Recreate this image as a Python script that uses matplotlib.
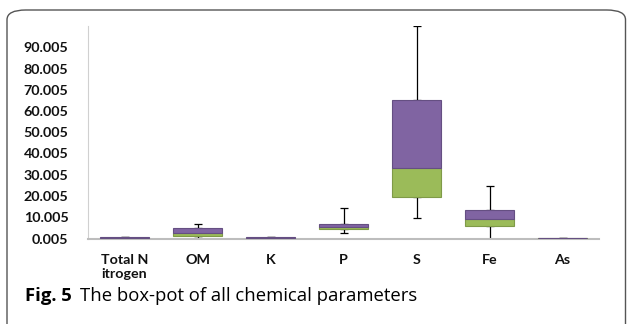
import numpy as np
import matplotlib.pyplot as plt
from matplotlib.patches import FancyBboxPatch

# box-plot statistics
categories = ["Total N\nitrogen", "OM", "K", "P", "S", "Fe", "As"]
minimum = [0.05, 0.4, 0.1, 2.6, 9.5, 0.005, 0.005]
q1 = [0.1, 1.2, 0.3, 4.6, 19.4, 6.0, 0.005]
median = [0.15, 2.7, 0.4, 5.4, 33.1, 9.3, 0.2]
q3 = [0.55, 5.1, 0.75, 6.8, 65.1, 13.25, 0.22]
maximum = [0.7, 6.7, 0.9, 14.2, 99.9, 24.5, 0.25]
yticks = [0.005 + 10 * i for i in range(10)]

purple = "#8064A2"
green = "#9BBB59"

fig = plt.figure(figsize=(6.27, 3.24), dpi=100)

# rounded frame around the figure
frame = FancyBboxPatch((7 / 627, -0.2), (625.5 - 7) / 627, 1.2 - 10 / 324,
                       boxstyle="round,pad=0,rounding_size=0.03",
                       transform=fig.transFigure, fill=False,
                       edgecolor="#555555", linewidth=1.0)
fig.patches.append(frame)

ax = fig.add_axes([88 / 627, 1 - 238.5 / 324, (599 - 88) / 627, (238.5 - 26) / 324])

x = np.arange(len(categories))
q1a = np.array(q1)
meda = np.array(median)
q3a = np.array(q3)
width = 0.66

ax.bar(x, meda - q1a, bottom=q1a, width=width, color=green,
       edgecolor="#7f9a48", linewidth=0.8, zorder=3)
ax.bar(x, q3a - meda, bottom=meda, width=width, color=purple,
       edgecolor="#654f82", linewidth=0.8, zorder=3)

# whiskers
ax.errorbar(x, q3a, yerr=[np.zeros(len(x)), np.array(maximum) - q3a],
            fmt="none", ecolor="black", elinewidth=0.9, capsize=3, capthick=0.9, zorder=2)
ax.errorbar(x, q1a, yerr=[q1a - np.array(minimum), np.zeros(len(x))],
            fmt="none", ecolor="black", elinewidth=0.9, capsize=3, capthick=0.9, zorder=2)

ax.set_xlim(-0.5, len(categories) - 0.5)
ax.set_ylim(0.005, 100.005)
ax.set_yticks(yticks)
ax.set_yticklabels(["%.3f" % t for t in yticks])
ax.set_xticks(x)
ax.set_xticklabels(categories, va="top")

for lab in ax.get_yticklabels() + ax.get_xticklabels():
    lab.set_fontfamily("Lato")
    lab.set_fontweight("bold")
    lab.set_fontsize(10.3)
    lab.set_color("#111111")
ax.tick_params(axis="both", length=0)
ax.tick_params(axis="y", pad=14)
ax.tick_params(axis="x", pad=11)

for s in ["top", "right"]:
    ax.spines[s].set_visible(False)
ax.spines["left"].set_color("#d0d0d0")
ax.spines["left"].set_linewidth(0.8)
ax.spines["bottom"].set_color("#bdbdbd")
ax.spines["bottom"].set_linewidth(1.5)

# caption
fig.text(25 / 627, 1 - 296 / 324, "Fig. 5", fontfamily="Open Sans", fontweight="bold",
         fontsize=13.3, va="center", ha="left")
fig.text(80 / 627, 1 - 296 / 324, "The box-pot of all chemical parameters",
         fontfamily="Open Sans", fontsize=13.3, va="center", ha="left")

fig.savefig("out.png", dpi=100)
